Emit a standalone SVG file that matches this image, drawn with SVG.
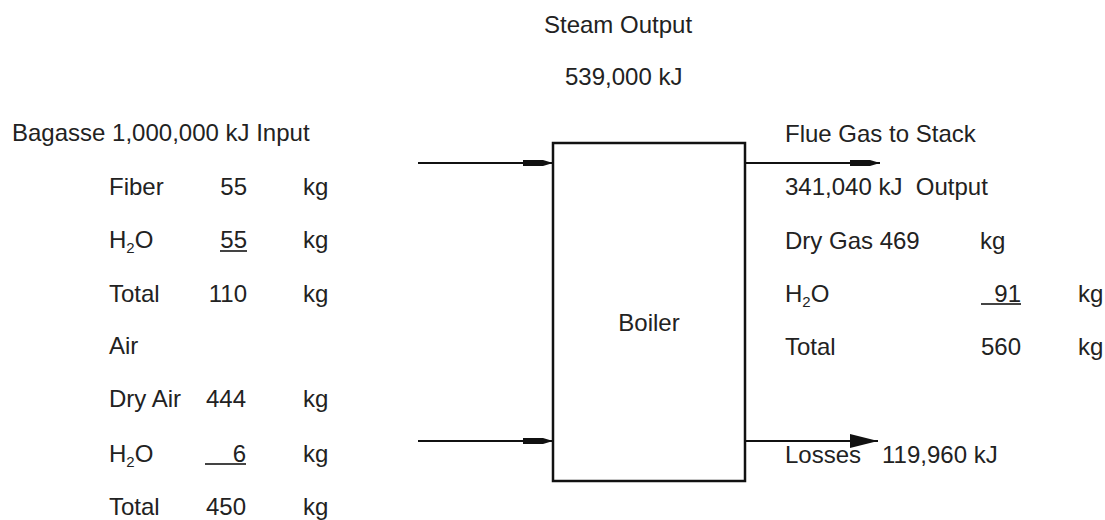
<svg xmlns="http://www.w3.org/2000/svg" width="1105" height="520" viewBox="0 0 1105 520">
<style>
text{font-family:"Liberation Sans",Arial,sans-serif;font-size:24px;fill:#222}
.n{text-anchor:end}
.c{text-anchor:middle}
.sub{font-size:15px}
.ln{stroke:#111;stroke-width:2;fill:none}
.ul{stroke:#444;stroke-width:2}
</style>
<defs>
<marker id="ah" viewBox="0 0 30 10" refX="30" refY="5" markerWidth="30" markerHeight="10" markerUnits="userSpaceOnUse" orient="auto">
<path d="M0,2 L20,2 L30,5 L20,8 L0,8 Z" fill="#111"/>
</marker>
<marker id="tri" viewBox="0 0 28 14" refX="28" refY="7" markerWidth="28" markerHeight="14" markerUnits="userSpaceOnUse" orient="auto">
<path d="M0,0 L28,7 L0,14 Z" fill="#111"/>
</marker>
</defs>
<g id="connectors">
<line class="ln" x1="418" y1="163" x2="553" y2="163" marker-end="url(#ah)"/>
<line class="ln" x1="418" y1="441" x2="553" y2="441" marker-end="url(#ah)"/>
<line class="ln" x1="745" y1="163" x2="880" y2="163" marker-end="url(#ah)"/>
<line class="ln" x1="745" y1="441" x2="878" y2="441" marker-end="url(#tri)"/>
</g>
<g id="boiler">
<rect x="553" y="143" width="192" height="338" fill="#fff" stroke="#111" stroke-width="2.5"/>
<text class="c" x="649" y="331">Boiler</text>
</g>
<g id="steam-output">
<text x="544" y="33">Steam Output</text>
<text x="565" y="85">539,000 kJ</text>
</g>
<g id="bagasse-input">
<text x="12" y="141" xml:space="preserve">Bagasse 1,000,000 kJ Input</text>
<text x="109" y="195">Fiber</text><text class="n" x="247" y="195">55</text><text x="303" y="195">kg</text>
<text x="109" y="248">H<tspan class="sub" dy="5">2</tspan><tspan dy="-5">O</tspan></text><text class="n" x="247" y="248">55</text><text x="303" y="248">kg</text>
<line class="ul" x1="220" y1="251" x2="247" y2="251"/>
<text x="109" y="302">Total</text><text class="n" x="247" y="302">110</text><text x="303" y="302">kg</text>
</g>
<g id="air-input">
<text x="109" y="354">Air</text>
<text x="109" y="407">Dry Air</text><text class="n" x="246" y="407">444</text><text x="303" y="407">kg</text>
<text x="109" y="462">H<tspan class="sub" dy="5">2</tspan><tspan dy="-5">O</tspan></text><text class="n" x="246" y="462">6</text><text x="303" y="462">kg</text>
<line class="ul" x1="205" y1="464" x2="246" y2="464"/>
<text x="109" y="515">Total</text><text class="n" x="246" y="515">450</text><text x="303" y="515">kg</text>
</g>
<g id="flue-gas">
<text x="785" y="142">Flue Gas to Stack</text>
<text x="785" y="195" xml:space="preserve">341,040 kJ  Output</text>
<text x="785" y="249">Dry Gas 469</text><text x="980" y="249">kg</text>
<text x="785" y="302">H<tspan class="sub" dy="5">2</tspan><tspan dy="-5">O</tspan></text><text class="n" x="1021" y="302">91</text><text x="1078" y="302">kg</text>
<line class="ul" x1="981" y1="304" x2="1021" y2="304"/>
<text x="785" y="355">Total</text><text class="n" x="1021" y="355">560</text><text x="1078" y="355">kg</text>
</g>
<g id="losses">
<text x="785" y="463">Losses</text>
<text x="882" y="463">119,960 kJ</text>
</g>
</svg>
